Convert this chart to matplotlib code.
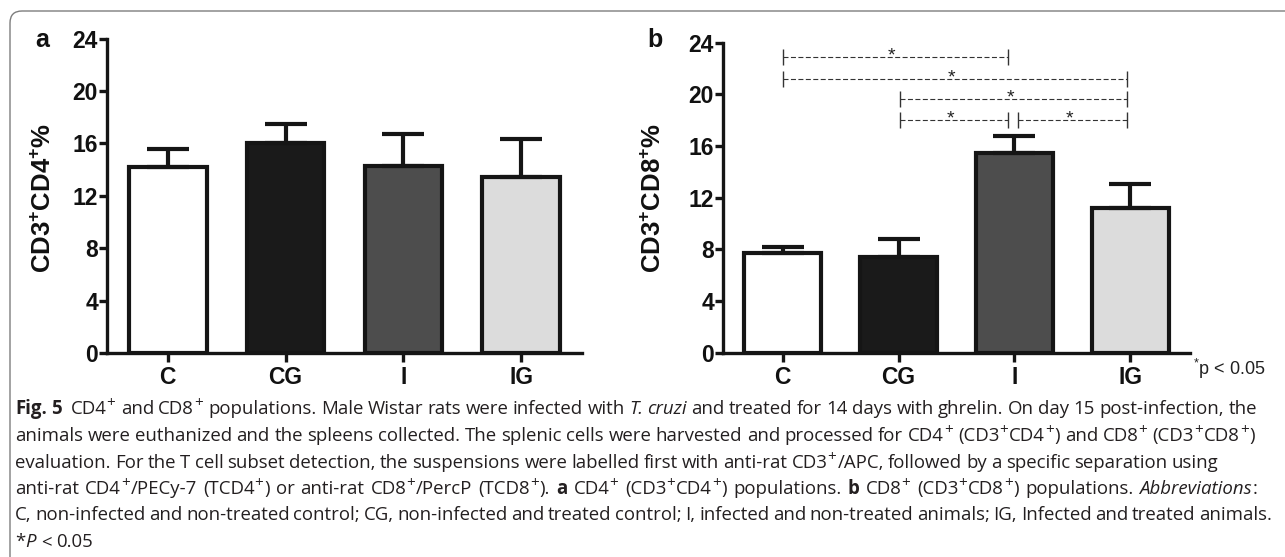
import matplotlib
matplotlib.use('Agg')
import matplotlib.pyplot as plt
from matplotlib.patches import FancyBboxPatch
from matplotlib.transforms import IdentityTransform
from matplotlib.font_manager import FontProperties

# ---------------- data ----------------
groups = ['C', 'CG', 'I', 'IG']
cd4_mean = [14.2, 16.0, 14.25, 13.45]
cd4_sem = [1.36, 1.5, 2.45, 2.85]
cd8_mean = [7.69, 7.43, 15.43, 11.18]
cd8_sem = [0.46, 1.34, 1.37, 1.88]
bar_colors = ['#ffffff', '#1a1a1a', '#4d4d4d', '#dcdcdc']
yticks = [0, 4, 8, 12, 16, 20, 24]
comparisons = [(0, 2), (0, 3), (1, 3), (1, 2), (2, 3)]
comp_levels = [22.9, 21.2, 19.6, 18.0, 18.0]
ylabels = [r'CD3$^{\mathbf{+}}$CD4$^{\mathbf{+}}$%', r'CD3$^{\mathbf{+}}$CD8$^{\mathbf{+}}$%']
panel_letters = ['a', 'b']
sig_note = r'$^{*}$p < 0.05'

caption_lines = [
    "§Fig. 5§  CD4^+ and CD8^+ populations. Male Wistar rats were infected with ~T. cruzi~ and treated for 14 days with ghrelin. On day 15 post-infection, the",
    "animals were euthanized and the spleens collected. The splenic cells were harvested and processed for CD4^+ (CD3^+CD4^+) and CD8^+ (CD3^+CD8^+)",
    "evaluation. For the T cell subset detection, the suspensions were labelled first with anti-rat CD3^+/APC, followed by a specific separation using",
    "anti-rat CD4^+/PECy-7 (TCD4^+) or anti-rat CD8^+/PercP (TCD8^+). §a§ CD4^+ (CD3^+CD4^+) populations. §b§ CD8^+ (CD3^+CD8^+) populations. ~Abbreviations~:",
    "C, non-infected and non-treated control; CG, non-infected and treated control; I, infected and non-treated animals; IG, Infected and treated animals.",
    "*~P~ < 0.05",
]
caption_right = [1257, 1255, 1218, 1257, 1272, None]

# ---------------- style ----------------
plt.rcParams['font.family'] = ['Liberation Sans', 'DejaVu Sans']
plt.rcParams['mathtext.fontset'] = 'custom'
plt.rcParams['mathtext.rm'] = 'Liberation Sans'
plt.rcParams['mathtext.bf'] = 'Liberation Sans:bold'
plt.rcParams['mathtext.it'] = 'Liberation Sans:italic'

W, H = 1285, 557
fig = plt.figure(figsize=(W / 100, H / 100), dpi=100)


def px_axes(l, t, r, b):
    return fig.add_axes([l / W, 1 - b / H, (r - l) / W, (b - t) / H])


# outer rounded frame
frame = FancyBboxPatch((10, -30), 1320, H - 11 + 30, boxstyle='round,pad=0,rounding_size=12',
                       transform=IdentityTransform(), facecolor='none', edgecolor='#7d7d7d',
                       linewidth=1.0, figure=fig)
fig.patches.append(frame)

axa = px_axes(107, 38.5, 582, 353)
axb = px_axes(723, 42.6, 1190, 352.7)

EDGE = '#151515'
for ax, means, sems in [(axa, cd4_mean, cd4_sem), (axb, cd8_mean, cd8_sem)]:
    x = list(range(len(groups)))
    ax.bar(x, means, width=0.66, color=bar_colors, edgecolor=EDGE, linewidth=3.0, zorder=2)
    ax.errorbar(x, means, yerr=[[0] * len(sems), sems], fmt='none', ecolor=EDGE,
                elinewidth=3.0, capsize=15, capthick=3.0, zorder=3)
    ax.set_xlim(-0.515, 3.515)
    ax.set_ylim(0, 24)
    ax.set_yticks(yticks)
    ax.set_xticks(x)
    ax.set_xticklabels(groups)
    for s in ['top', 'right']:
        ax.spines[s].set_visible(False)
    for s in ['left', 'bottom']:
        ax.spines[s].set_linewidth(2.4)
        ax.spines[s].set_color(EDGE)
        ax.spines[s].set_zorder(4)
    ax.tick_params(axis='y', direction='out', length=5.5, width=2.4, color=EDGE, pad=1.0,
                   labelsize=16.5, labelcolor='#111111')
    ax.tick_params(axis='x', direction='out', length=6.5, width=2.4, color=EDGE, pad=3.0,
                   labelsize=16.5, labelcolor='#111111')
    for lab in ax.get_xticklabels() + ax.get_yticklabels():
        lab.set_fontweight('bold')
    ax.patch.set_alpha(0)

# y labels & panel letters
for lbl, cx, letter, lx in [(ylabels[0], 44, panel_letters[0], 35), (ylabels[1], 654, panel_letters[1], 647)]:
    fig.text(cx / W, 1 - 198 / H, lbl, rotation=90, ha='center', va='center',
             fontsize=18.5, fontweight='bold', color='#111111')
    fig.text(lx / W, 1 - 47 / H, letter, ha='left', va='baseline', fontsize=18,
             fontweight='bold', color='#111111')

# significance brackets on panel b
for (i, j), lvl in zip(comparisons, comp_levels):
    x0 = i + (0.03 if i == 2 else 0.01 * i)
    x1 = j - (0.025 if j == 3 else 0.055)
    axb.plot([x0, x1], [lvl, lvl], color='#333333', lw=0.8, ls=(0, (4.5, 2.2)), zorder=3,
             clip_on=False)
    axb.vlines([x0, x1], lvl - 0.62, lvl + 0.62, color='#333333', lw=1.0, zorder=3,
               clip_on=False)
    axb.text((x0 + x1) / 2 - 0.03, lvl - 0.25, '*', ha='center', va='baseline', fontsize=14,
             color='#222222', clip_on=False)

fig.text(1193 / W, 1 - 375 / H, sig_note, ha='left', va='baseline', fontsize=13,
         color='#222222')

# ---------------- caption ----------------
CAP_FONT = 'Open Sans'
renderer = fig.canvas.get_renderer()


def parse(line):
    bold = italic = False
    words = [[]]
    i = 0
    while i < len(line):
        ch = line[i]
        if ch == '§':
            bold = not bold
        elif ch == '~':
            italic = not italic
        elif ch == '^':
            words[-1].append((line[i + 1], bold, italic, True))
            i += 1
        elif ch == ' ':
            words.append([])
        else:
            w = words[-1]
            if w and w[-1][1:] == (bold, italic, False):
                w[-1] = (w[-1][0] + ch, bold, italic, False)
            else:
                w.append((ch, bold, italic, False))
        i += 1
    return words


def fprop(bold, italic, sup, size):
    return FontProperties(family=CAP_FONT, weight='bold' if bold else 'normal',
                          style='italic' if italic else 'normal',
                          size=size * (0.82 if sup else 1.0))


def twidth(s, prop):
    t = fig.text(0, 0, s, fontproperties=prop)
    w = t.get_window_extent(renderer).width
    t.remove()
    return w


def word_width(word, size):
    return sum(twidth(seg[0], fprop(seg[1], seg[2], seg[3], size)) + (1 if seg[3] else 0)
               for seg in word)


def space_width(size):
    p = fprop(False, False, False, size)
    return twidth('a a', p) - twidth('aa', p)


BASE = 13.0
parsed = [parse(l) for l in caption_lines]
sp_base = space_width(BASE)
ratios = []
for words, right in zip(parsed, caption_right):
    if right is None:
        continue
    natural = sum(word_width(w, BASE) for w in words) + (len(words) - 1) * sp_base * 0.8
    ratios.append((right - 15) / natural)
size = min(BASE * min(ratios), 13.8)
sp = space_width(size)

left = 15
baselines = [414, 441, 467.5, 494, 520.5, 547]
for words, right, base in zip(parsed, caption_right, baselines):
    widths = [word_width(w, size) for w in words]
    if right is None:
        gap = sp
    else:
        gap = (right - left - sum(widths)) / max(len(words) - 1, 1)
    x = left
    for w, ww in zip(words, widths):
        cx = x
        for seg in w:
            prop = fprop(seg[1], seg[2], seg[3], size)
            raise_px = 0.36 * size * 100 / 72 if seg[3] else 0
            fig.text(cx / W, 1 - (base - raise_px) / H, seg[0], fontproperties=prop,
                     ha='left', va='baseline', color='#231f20')
            cx += twidth(seg[0], prop) + (1 if seg[3] else 0)
        x += ww + gap

fig.savefig('out.png', dpi=100)
